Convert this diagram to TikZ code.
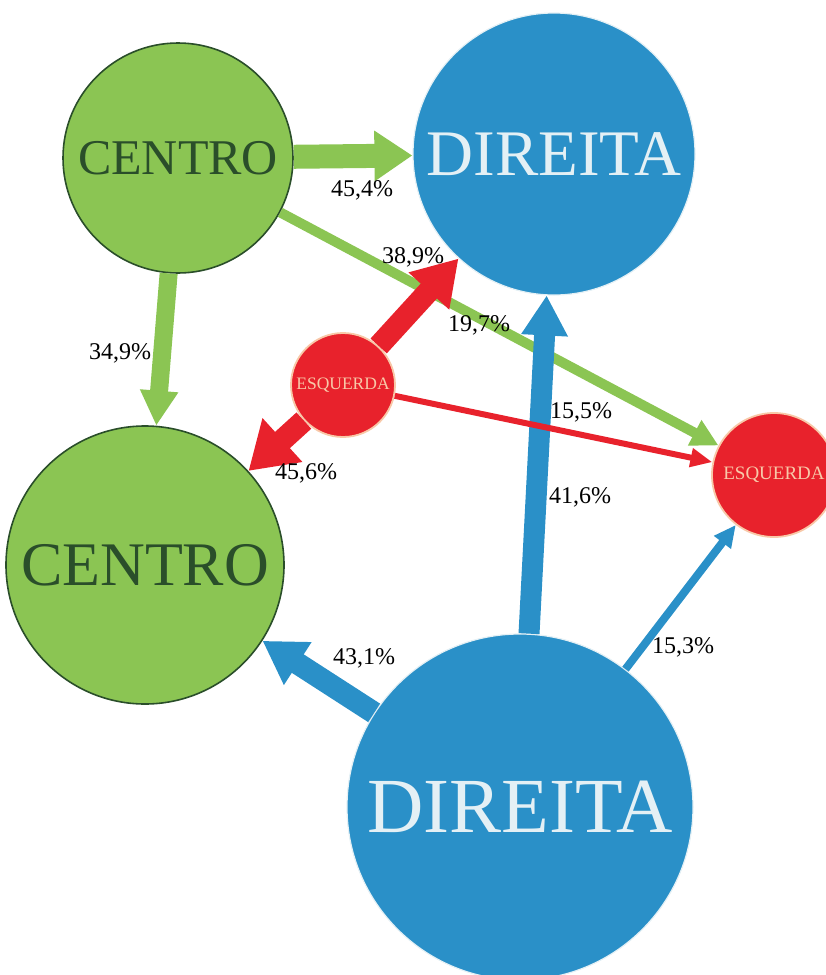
\documentclass[tikz,border=0pt]{standalone}
\usepackage{fontspec}
\setmainfont{Liberation Serif}
\usetikzlibrary{arrows.meta}

\definecolor{verde}{RGB}{139,197,83}
\definecolor{verdeesc}{RGB}{42,78,42}
\definecolor{azul}{RGB}{42,144,200}
\definecolor{azulclaro}{RGB}{228,240,245}
\definecolor{vermelho}{RGB}{232,34,44}
\definecolor{pessego}{RGB}{248,200,168}

\tikzset{
  centro/.style={circle, inner sep=0pt, fill=verde, draw=verdeesc, line width=1.6pt, text=verdeesc},
  direita/.style={circle, inner sep=0pt, fill=azul, draw=azulclaro, line width=1.2pt, text=azulclaro},
  esquerda/.style={circle, inner sep=0pt, fill=vermelho, draw=pessego, line width=1.8pt, text=pessego},
  pct/.style={font=\fontsize{24}{27}\selectfont, inner sep=0pt},
}

\begin{document}
\begin{tikzpicture}[x=1pt, y=-1pt]
    \useasboundingbox (0,0) rectangle (825,975);
    % circulos
    \node[centro, minimum size=230pt, font=\fontsize{50}{60}\selectfont] (c1) at (178,158) {CENTRO};
    \node[centro, minimum size=278pt, font=\fontsize{62}{70}\selectfont] (c2) at (145,565) {CENTRO};
    \node[direita, minimum size=282pt, font=\fontsize{65}{72}\selectfont] (d1) at (554,154) {DIREITA};
    \node[direita, minimum size=346pt, font=\fontsize{78}{86}\selectfont] (d2) at (520,807) {DIREITA};
    \node[esquerda, minimum size=104pt, font=\fontsize{17.5}{20}\selectfont] (e1) at (343,385) {ESQUERDA};
    \node[esquerda, minimum size=124pt, font=\fontsize{19}{22}\selectfont] (e2) at (774,475) {ESQUERDA};
    % fluxos do centro
    \draw[verde, line width=24pt, -{Triangle[width=48pt,length=38pt]}] (c1) -- (d1);
    \draw[verde, line width=18pt, -{Triangle[width=36pt,length=35pt]}] (c1) -- (c2);
    \draw[verde, line width=10pt, -{Triangle[width=27pt,length=27pt]}] (c1) -- (e2);
    % fluxos da direita
    \draw[azul, line width=21pt, -{Triangle[width=44pt,length=40pt]}] (d2) -- (d1);
    \draw[azul, line width=22pt, -{Triangle[width=48pt,length=42pt]}] (d2) -- (c2);
    \draw[azul, line width=8pt, -{Triangle[width=20pt,length=22pt]}] (d2) -- (e2);
    % fluxos da esquerda
    \draw[vermelho, line width=22pt, -{Triangle[width=52pt,length=44pt]}] (e1) -- (d1);
    \draw[vermelho, line width=22pt, -{Triangle[width=56pt,length=46pt]}] (e1) -- (c2);
    \draw[vermelho, line width=6pt, -{Triangle[width=18pt,length=22pt]}] (e1) -- (e2);
    % percentagens
    \node[pct] (p1) at (362,190) {45,4\%};
    \node[pct] (p2) at (120,353) {34,9\%};
    \node[pct] (p3) at (479,325) {19,7\%};
    \node[pct] (p4) at (413,257) {38,9\%};
    \node[pct] (p5) at (306,473) {45,6\%};
    \node[pct] (p6) at (581,412) {15,5\%};
    \node[pct] (p7) at (580,497) {41,6\%};
    \node[pct] (p8) at (364,658) {43,1\%};
    \node[pct] (p9) at (683,647) {15,3\%};
\end{tikzpicture}
\end{document}
